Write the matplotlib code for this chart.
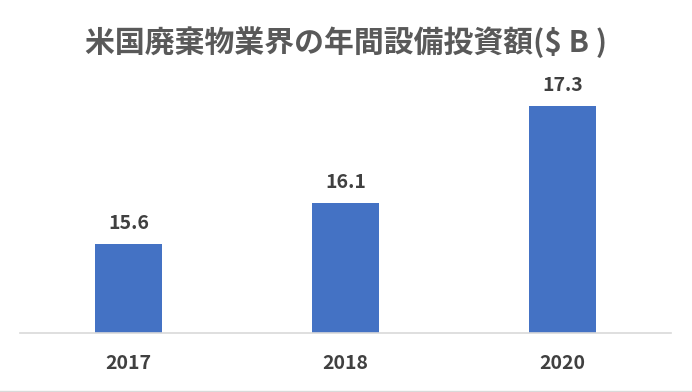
import matplotlib
matplotlib.use("Agg")
import matplotlib.pyplot as plt

plt.rcParams['font.family'] = ['Noto Sans CJK JP', 'DejaVu Sans']

years = ['2017', '2018', '2020']
capex = [15.6, 16.1, 17.3]
title = '米国廃棄物業界の年間設備投資額($ B )'

bar_color = '#4472C4'
text_color = '#404040'

fig = plt.figure(figsize=(6.92, 3.92), dpi=100)
ax = fig.add_axes([20 / 692, 59 / 392, 651 / 692, 243 / 392])

x = range(len(years))
bars = ax.bar(x, capex, width=0.31, color=bar_color, zorder=2)
ax.set_xlim(-0.5, len(years) - 0.5)
ax.set_ylim(14.5, 17.5)

for b, v in zip(bars, capex):
    ax.annotate(f'{v:.1f}', (b.get_x() + b.get_width() / 2, v),
                xytext=(0, 15), textcoords='offset points',
                ha='center', va='center', fontsize=14, fontweight='bold',
                color=text_color)

ax.set_xticks(list(x))
ax.set_xticklabels(years, fontsize=14, fontweight='bold', color=text_color)
ax.tick_params(axis='x', length=0, pad=15)
ax.set_yticks([])
for s in ['top', 'right', 'left']:
    ax.spines[s].set_visible(False)
ax.spines['bottom'].set_color('#d9d9d9')
ax.spines['bottom'].set_linewidth(1.2)

fig.text(0.5, 1 - 42 / 392, title, ha='center', va='center',
         fontsize=21.5, fontweight='bold', color='#595959')

fig.add_artist(plt.Line2D([0, 1], [1 / 392, 1 / 392], color='#d9d9d9', lw=1))

fig.savefig('out.png', dpi=100)
